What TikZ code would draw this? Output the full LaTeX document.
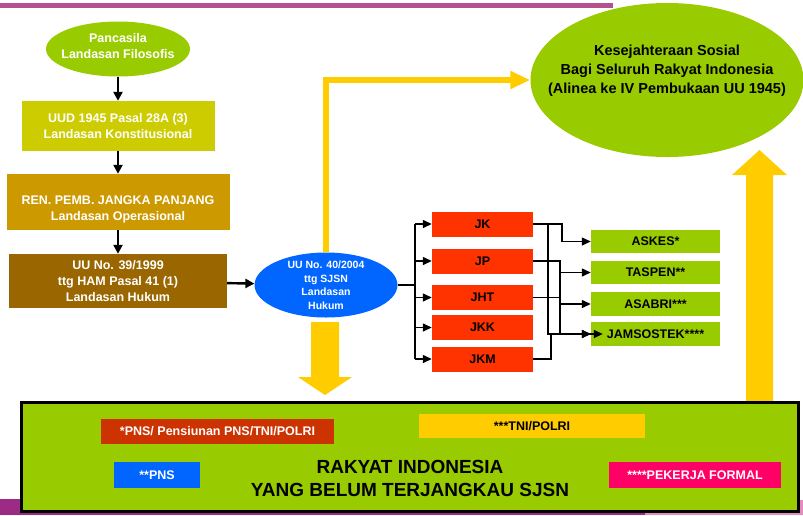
\documentclass[tikz,border=0pt]{standalone}
\usepackage{fontspec}
\setmainfont{Liberation Sans}
\usetikzlibrary{shapes.geometric,arrows.meta}
\definecolor{leafgreen}{HTML}{99CC00}
\definecolor{olivebox}{HTML}{CCCC00}
\definecolor{goldbox}{HTML}{CC9900}
\definecolor{brownbox}{HTML}{996600}
\definecolor{sjsnblue}{HTML}{0066FF}
\definecolor{programred}{HTML}{FF3300}
\definecolor{sunyellow}{HTML}{FFCC00}
\definecolor{brickred}{HTML}{CC3300}
\definecolor{hotpink}{HTML}{FF0066}
\definecolor{topbar}{HTML}{B5508F}
\definecolor{bottombar}{HTML}{9C2B85}
\definecolor{pinkbar}{HTML}{E68BBE}
\begin{document}
\begin{tikzpicture}
		[x=1pt,y=-1pt,
		every node/.style={font=\fontsize{12.5}{16}\selectfont\bfseries,align=center,inner sep=0pt},
		oval/.style={ellipse,draw=none},
		dasar/.style={rectangle,text=white},
		program/.style={rectangle,fill=programred,minimum width=101pt,minimum height=25pt},
		badan/.style={rectangle,fill=leafgreen,minimum width=129pt,minimum height=23.5pt},
		tag/.style={rectangle,minimum height=25pt},
		feed/.style={{Triangle[length=9pt,width=9pt]}-,line width=2.4pt},
		fan/.style={-{Triangle[length=9pt,width=8pt]},line width=1.4pt},
		fanline/.style={line width=1.4pt},
		flow/.style={draw=sunyellow,line width=6.5pt,-{Triangle[length=20pt,width=17pt]}}]
		\useasboundingbox (0,0) rectangle (803,515);
		% frame strips
		\fill [topbar] (0,3) rectangle (613,8);
		\fill [bottombar] (0,499) rectangle (645,515);
		\fill [pinkbar] (645,500) rectangle (803,515);
		% left chain
		\node at (118, 49) (pancasila) [oval,fill=leafgreen,minimum width=144pt,minimum height=55pt] {};
		\node at (118, 46) (pancasilaText) [text=white] {Pancasila\\Landasan Filosofis};
		\node at (118, 126) (uud) [dasar,fill=olivebox,minimum width=193pt,minimum height=50pt] {UUD 1945 Pasal 28A (3)\\Landasan Konstitusional}
			edge [feed] (pancasila);
		\node at (118, 202) (ren) [dasar,fill=goldbox,minimum width=223pt,minimum height=56pt] {}
			edge [feed] (uud);
		\node at (118, 209) (renText) [text=white] {REN. PEMB. JANGKA PANJANG\\Landasan Operasional};
		\node at (118, 281) (uuham) [dasar,fill=brownbox,minimum width=218pt,minimum height=54pt] {UU No. 39/1999\\ttg HAM Pasal 41 (1)\\Landasan Hukum}
			edge [feed] (ren);
		\node at (326, 285) (sjsn) [oval,fill=sjsnblue,minimum width=143pt,minimum height=65pt] {}
			edge [feed] (uuham);
		\node at (326, 285) (sjsnText) [text=white,font=\fontsize{10.5}{13.5}\selectfont\bfseries] {UU No. 40/2004\\ttg SJSN\\Landasan\\Hukum};
		% goal
		\node at (667, 80) (kesejahteraan) [oval,fill=leafgreen,minimum width=273pt,minimum height=154pt] {};
		\node at (667, 71) (kesejahteraanText) [font=\fontsize{14.5}{19}\selectfont\bfseries] {Kesejahteraan Sosial\\Bagi Seluruh Rakyat Indonesia\\(Alinea ke IV Pembukaan UU 1945)};
		\draw [flow] (sjsn.north) |- (kesejahteraan.west);
		% programmes
		\node at (482.5, 224) (jk) [program] {JK};
		\node at (482.5, 261) (jp) [program] {JP};
		\node at (482.5, 297.5) (jht) [program] {JHT};
		\node at (482.5, 327.5) (jkk) [program] {JKK};
		\node at (482.5, 359) (jkm) [program] {JKM};
		\coordinate (bus) at (415, 285);
		\draw [fanline] (sjsn.east) -- (bus);
		\draw [fanline] (bus |- jk.west) -- (bus |- jkm.west);
		\foreach \p in {jk,jp,jht,jkk,jkm}
			\draw [fan] (bus |- \p.west) -- (\p.west);
		% bodies
		\node at (655.5, 241.5) (askes) [badan] {ASKES*};
		\node at (655.5, 272.5) (taspen) [badan] {TASPEN**};
		\node at (655.5, 304) (asabri) [badan] {ASABRI***};
		\node at (655.5, 334) (jamsostek) [badan] {JAMSOSTEK****};
		\coordinate (tapA) at (548, 0);
		\coordinate (tapB) at (551, 0);
		\coordinate (tapC) at (560, 0);
		\coordinate (tapD) at (562, 0);
		\draw [fan] (jk.east) -| (tapD |- askes.west) -- (askes.west);
		\draw [fan] (jk.east) -| (tapA |- jamsostek.west) -- (jamsostek.west);
		\draw [fan] (jp.east) -| (tapC |- taspen.west) -- (taspen.west);
		\draw [fan] (jp.east) -| (tapC |- jamsostek.west) -- (jamsostek.west);
		\draw [fan] (jht.east) -| (tapC |- asabri.west) -- (asabri.west);
		\draw [fan] (jkm.east) -| (tapB |- jamsostek.west) -- ([xshift=12pt]jamsostek.west);
		% big arrows
		\fill [sunyellow] (311,322) -- (339,322) -- (339,377) -- (352,377) -- (325,395) -- (298,377) -- (311,377) -- cycle;
		\fill [sunyellow] (746,402) -- (746,175) -- (732,175) -- (759.5,150) -- (787,175) -- (773,175) -- (773,402) -- cycle;
		% people
		\node at (410, 456.5) (rakyat) [draw=black,line width=3pt,fill=leafgreen,minimum width=777pt,minimum height=109pt] {};
		\node at (410, 478.5) (rakyatText) [font=\fontsize{19}{23}\selectfont\bfseries] {RAKYAT INDONESIA\\YANG BELUM TERJANGKAU SJSN};
		\node at (217.5, 431.5) (pensiun) [tag,fill=brickred,text=white,minimum width=233pt] {*PNS/ Pensiunan PNS/TNI/POLRI};
		\node at (532, 426) (tnipolri) [tag,fill=sunyellow,minimum width=226pt,minimum height=24pt] {***TNI/POLRI};
		\node at (157, 475) (pns) [tag,fill=sjsnblue,text=white,minimum width=86pt,minimum height=26pt] {**PNS};
		\node at (695, 475) (pekerja) [tag,fill=hotpink,text=white,minimum width=172pt,minimum height=26pt] {****PEKERJA FORMAL};
	\end{tikzpicture}
\end{document}
